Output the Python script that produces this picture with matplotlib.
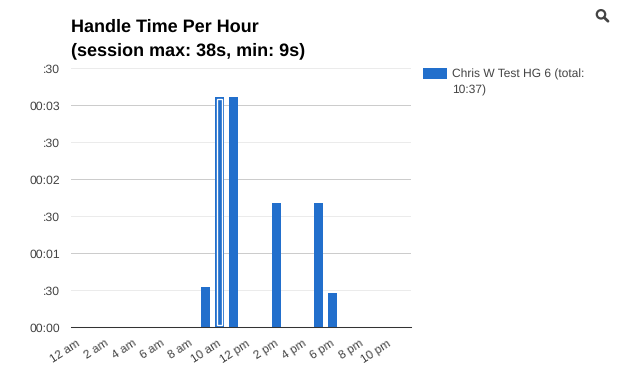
import matplotlib
matplotlib.use("Agg")
import matplotlib.pyplot as plt
from matplotlib.patches import Circle, Patch
from matplotlib.lines import Line2D
from matplotlib.transforms import ScaledTranslation

plt.rcParams['font.family'] = ['Liberation Sans', 'DejaVu Sans']
plt.rcParams['text.hinting'] = 'none'

W, H = 618, 379
hours = list(range(24))
seconds = [0, 0, 0, 0, 0, 0, 0, 0, 0, 33, 187, 187, 0, 0, 101, 0, 0, 101, 28, 0, 0, 0, 0, 0]
selected_hour = 10
x_ticks = list(range(0, 24, 2))
x_labels = ['12 am', '2 am', '4 am', '6 am', '8 am', '10 am', '12 pm', '2 pm', '4 pm', '6 pm', '8 pm', '10 pm']
y_ticks = [0, 30, 60, 90, 120, 150, 180, 210]
y_labels = ['00:00', ':30', '00:01', ':30', '00:02', ':30', '00:03', ':30']
legend_lines = ['Chris W Test HG 6 (total:', '10:37)']
title = 'Handle Time Per Hour\n(session max: 38s, min: 9s)'
blue = '#226fcc'
text_c = '#444444'

fig = plt.figure(figsize=(W / 100, H / 100), dpi=100)
ax = fig.add_axes([71 / W, 1 - 327.4 / H, 339.6 / W, 259 / H])
ax.set_xlim(-0.5, 23.5)
ax.set_ylim(0, 210)

bars = ax.bar(hours, seconds, width=0.62, color=blue, linewidth=0, zorder=3)
sel = seconds[selected_hour]
ax.bar([selected_hour], [sel - 4.0], bottom=[2.2], width=0.36, facecolor='none',
       edgecolor='white', linewidth=0.95, zorder=4)

for i, t in enumerate(y_ticks):
    major = i % 2 == 0
    if t > 0:
        ax.axhline(t, color='#cccccc' if major else '#ebebeb', lw=0.72, zorder=1)
for s in ['top', 'left', 'right']:
    ax.spines[s].set_visible(False)
ax.spines['bottom'].set_color('#333333')
ax.spines['bottom'].set_linewidth(0.75)
ax.spines['bottom'].set_zorder(5)

ax.set_yticks(y_ticks)
ax.set_yticklabels(y_labels, fontsize=8.8, color=text_c)
ax.tick_params(axis='y', length=0, pad=8.0)
ax.set_xticks(x_ticks)
ax.set_xticklabels(x_labels, fontsize=8.6, color=text_c, rotation=33, ha='right',
                   rotation_mode='anchor')
ax.tick_params(axis='x', length=0, pad=7.2)
shift = ScaledTranslation(-2.5 / 100, 0, fig.dpi_scale_trans)
for lab in ax.get_xticklabels():
    lab.set_transform(lab.get_transform() + shift)

fig.text(71 / W, 1 - 18.5 / H, title, fontsize=13, fontweight='bold', color='black',
         ha='left', va='top', linespacing=1.52)

leg = fig.legend(handles=[bars, Patch(facecolor='none', edgecolor='none')], labels=legend_lines,
                 loc='upper left', bbox_to_anchor=(423 / W, 1 - 68 / H), borderaxespad=0,
                 borderpad=0, frameon=False, fontsize=8.65, handlelength=24 / 12.0,
                 handleheight=1.0, handletextpad=0.45, labelspacing=0.34, labelcolor=text_c)

# magnifier icon
def fx(px): return px / W
def fy(py): return 1 - py / H
fig.add_artist(Circle((601, H - 14.3), 4.2, transform=None, facecolor='none',
                      edgecolor='#444444', linewidth=1.6))
fig.add_artist(Line2D([fx(604.2), fx(608)], [fy(17.6), fy(21.2)], transform=fig.transFigure,
                      color='#444444', linewidth=2.0, solid_capstyle='round'))

fig.savefig('out.png', dpi=100)
